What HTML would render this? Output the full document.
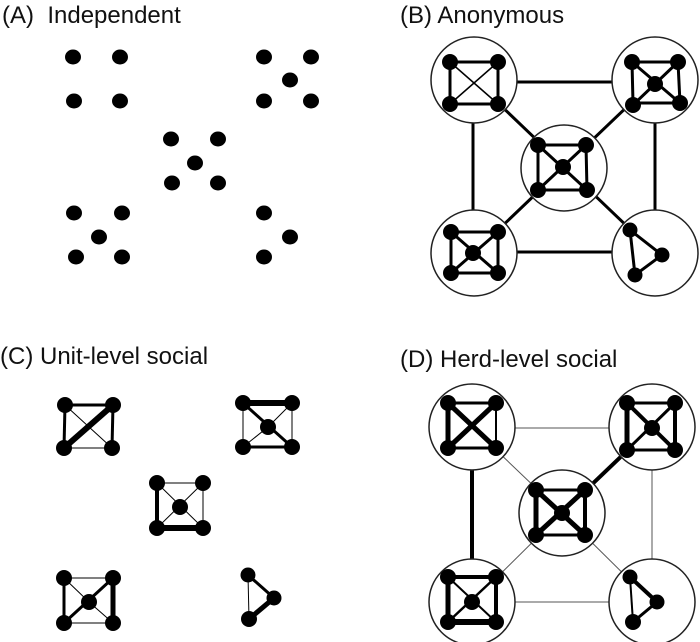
<!DOCTYPE html>
<html><head><meta charset="utf-8"><style>
html,body{margin:0;padding:0;background:#fff;}
svg{display:block;}
text{font-family:"Liberation Sans",Arial,sans-serif;font-size:24px;fill:#111;}
</style></head><body>
<svg width="700" height="642" viewBox="0 0 700 642" xmlns="http://www.w3.org/2000/svg">
<text x="2" y="23" xml:space="preserve">(A)  Independent</text>
<text x="400" y="23">(B) Anonymous</text>
<text x="0" y="364">(C) Unit-level social</text>
<text x="400" y="367">(D) Herd-level social</text>

<!-- Panel A -->
<g fill="#000">
<ellipse cx="73" cy="57" rx="8" ry="7.5"/><ellipse cx="120" cy="57" rx="8" ry="7.5"/>
<ellipse cx="74" cy="101" rx="8" ry="7.5"/><ellipse cx="120" cy="101" rx="8" ry="7.5"/>
<ellipse cx="264" cy="57" rx="8" ry="7.5"/><ellipse cx="311" cy="57" rx="8" ry="7.5"/>
<ellipse cx="290" cy="80" rx="8" ry="7.5"/>
<ellipse cx="264" cy="101" rx="8" ry="7.5"/><ellipse cx="311" cy="101" rx="8" ry="7.5"/>
<ellipse cx="171" cy="139" rx="8" ry="7.5"/><ellipse cx="218" cy="139" rx="8" ry="7.5"/>
<ellipse cx="195" cy="163" rx="8" ry="7.5"/>
<ellipse cx="172" cy="183" rx="8" ry="7.5"/><ellipse cx="218" cy="183" rx="8" ry="7.5"/>
<ellipse cx="74" cy="213" rx="8" ry="7.5"/><ellipse cx="122" cy="213" rx="8" ry="7.5"/>
<ellipse cx="99" cy="237" rx="8" ry="7.5"/>
<ellipse cx="76" cy="257" rx="8" ry="7.5"/><ellipse cx="122" cy="257" rx="8" ry="7.5"/>
<ellipse cx="264" cy="213" rx="8" ry="7.5"/><ellipse cx="290" cy="237" rx="8" ry="7.5"/>
<ellipse cx="264" cy="257" rx="8" ry="7.5"/>
</g>

<!-- Panel B -->
<g stroke="#000" stroke-width="3">
<line x1="474" y1="82" x2="655" y2="82"/>
<line x1="473" y1="80" x2="473" y2="253"/>
<line x1="655" y1="80" x2="655" y2="253"/>
<line x1="474" y1="252" x2="655" y2="252"/>
<line x1="474" y1="80" x2="655" y2="253"/>
<line x1="655" y1="80" x2="474" y2="253"/>
</g>
<g fill="#fff" stroke="#222" stroke-width="1.5">
<circle cx="474" cy="80" r="43"/><circle cx="655" cy="80" r="43"/>
<circle cx="564" cy="168" r="43"/><circle cx="474" cy="253" r="43"/><circle cx="655" cy="253" r="43"/>
</g>
<g stroke="#000" stroke-width="3" fill="none">
<path d="M450 62H498V104H450Z"/>
<line x1="450" y1="62" x2="498" y2="104" stroke-width="1.5"/><line x1="498" y1="62" x2="450" y2="104" stroke-width="1.5"/>
<path d="M632 62H678L680 103H633Z"/>
<line x1="632" y1="62" x2="680" y2="103"/><line x1="678" y1="62" x2="633" y2="105"/>
<path d="M538 145H586L587 190H538Z"/>
<line x1="538" y1="145" x2="587" y2="190"/><line x1="586" y1="145" x2="538" y2="190"/>
<path d="M451 232H498V273H451Z"/>
<line x1="451" y1="232" x2="498" y2="273"/><line x1="498" y1="232" x2="451" y2="273"/>
<path d="M630 230L662 255L635 275Z"/>
</g>
<g fill="#000">
<circle cx="450" cy="62" r="8"/><circle cx="498" cy="62" r="8"/><circle cx="450" cy="104" r="8"/><circle cx="498" cy="104" r="8"/>
<circle cx="632" cy="62" r="8"/><circle cx="678" cy="62" r="8"/><circle cx="655" cy="84" r="8"/><circle cx="633" cy="105" r="8"/><circle cx="680" cy="103" r="8"/>
<circle cx="538" cy="145" r="8"/><circle cx="586" cy="145" r="8"/><circle cx="563" cy="167" r="8"/><circle cx="538" cy="190" r="8"/><circle cx="587" cy="190" r="8"/>
<circle cx="451" cy="232" r="8"/><circle cx="498" cy="232" r="8"/><circle cx="473" cy="253" r="8"/><circle cx="451" cy="273" r="8"/><circle cx="498" cy="273" r="8"/>
<circle cx="630" cy="230" r="7.5"/><circle cx="662" cy="255" r="7.5"/><circle cx="635" cy="275" r="7.5"/>
</g>

<!-- Panel C -->
<g stroke="#000">
<line x1="65" y1="405" x2="113" y2="405" stroke-width="3"/>
<line x1="65" y1="405" x2="64" y2="448" stroke-width="3"/>
<line x1="64" y1="448" x2="112" y2="448" stroke-width="1"/>
<line x1="113" y1="405" x2="112" y2="448" stroke-width="3"/>
<line x1="64" y1="448" x2="113" y2="405" stroke-width="6"/>
<line x1="65" y1="405" x2="112" y2="448" stroke-width="1"/>

<line x1="243" y1="403" x2="292" y2="403" stroke-width="6"/>
<line x1="243" y1="403" x2="292" y2="447" stroke-width="3"/>
<line x1="243" y1="403" x2="243" y2="447" stroke-width="1"/>
<line x1="292" y1="403" x2="292" y2="447" stroke-width="1"/>
<line x1="243" y1="447" x2="292" y2="447" stroke-width="3"/>
<line x1="292" y1="403" x2="268" y2="427" stroke-width="1"/>
<line x1="268" y1="427" x2="243" y2="447" stroke-width="1"/>

<line x1="157" y1="483" x2="203" y2="483" stroke-width="1"/>
<line x1="157" y1="483" x2="157" y2="528" stroke-width="4"/>
<line x1="157" y1="528" x2="203" y2="528" stroke-width="6"/>
<line x1="203" y1="483" x2="203" y2="528" stroke-width="1"/>
<line x1="157" y1="483" x2="203" y2="528" stroke-width="1"/>
<line x1="203" y1="483" x2="157" y2="528" stroke-width="1"/>

<line x1="64" y1="578" x2="113" y2="578" stroke-width="1"/>
<line x1="64" y1="578" x2="64" y2="623" stroke-width="3"/>
<line x1="113" y1="578" x2="113" y2="623" stroke-width="5"/>
<line x1="64" y1="623" x2="113" y2="623" stroke-width="1"/>
<line x1="64" y1="578" x2="89" y2="602" stroke-width="1"/>
<line x1="64" y1="623" x2="113" y2="578" stroke-width="3"/>
<line x1="89" y1="602" x2="113" y2="623" stroke-width="1"/>

<line x1="248" y1="575" x2="274" y2="598" stroke-width="3"/>
<line x1="248" y1="575" x2="249" y2="619" stroke-width="1"/>
<line x1="274" y1="598" x2="249" y2="619" stroke-width="5"/>
</g>
<g fill="#000">
<circle cx="65" cy="405" r="8"/><circle cx="113" cy="405" r="8"/><circle cx="64" cy="448" r="8"/><circle cx="112" cy="448" r="8"/>
<circle cx="243" cy="403" r="8"/><circle cx="292" cy="403" r="8"/><circle cx="268" cy="427" r="8"/><circle cx="243" cy="447" r="8"/><circle cx="292" cy="447" r="8"/>
<circle cx="157" cy="483" r="8"/><circle cx="203" cy="483" r="8"/><circle cx="180" cy="507" r="8"/><circle cx="157" cy="528" r="8"/><circle cx="203" cy="528" r="8"/>
<circle cx="64" cy="578" r="8"/><circle cx="113" cy="578" r="8"/><circle cx="89" cy="602" r="8"/><circle cx="64" cy="623" r="8"/><circle cx="113" cy="623" r="8"/>
<circle cx="248" cy="575" r="7.5"/><circle cx="274" cy="598" r="7.5"/><circle cx="249" cy="619" r="8"/>
</g>

<!-- Panel D -->
<g stroke="#000">
<line x1="472" y1="428" x2="652" y2="428" stroke-width="1" stroke="#555"/>
<line x1="472" y1="427" x2="472" y2="602" stroke-width="4"/>
<line x1="652" y1="427" x2="652" y2="602" stroke-width="1" stroke="#555"/>
<line x1="472" y1="602" x2="652" y2="602" stroke-width="1" stroke="#555"/>
<line x1="472" y1="427" x2="562" y2="513" stroke-width="1" stroke="#555"/>
<line x1="652" y1="427" x2="562" y2="513" stroke-width="4"/>
<line x1="562" y1="513" x2="472" y2="602" stroke-width="1" stroke="#555"/>
<line x1="562" y1="513" x2="652" y2="602" stroke-width="1" stroke="#555"/>
</g>
<g fill="#fff" stroke="#222" stroke-width="1.5">
<circle cx="472" cy="427" r="43"/><circle cx="652" cy="427" r="43"/>
<circle cx="562" cy="513" r="43"/><circle cx="472" cy="602" r="43"/><circle cx="652" cy="602" r="43"/>
</g>
<g stroke="#000">
<line x1="448" y1="403" x2="496" y2="403" stroke-width="3"/>
<line x1="448" y1="403" x2="448" y2="448" stroke-width="5"/>
<line x1="496" y1="403" x2="496" y2="448" stroke-width="2"/>
<line x1="448" y1="448" x2="496" y2="448" stroke-width="3"/>
<line x1="448" y1="403" x2="496" y2="448" stroke-width="5"/>
<line x1="496" y1="403" x2="448" y2="448" stroke-width="5"/>

<line x1="627" y1="403" x2="675" y2="403" stroke-width="3"/>
<line x1="627" y1="403" x2="627" y2="450" stroke-width="5"/>
<line x1="675" y1="403" x2="675" y2="450" stroke-width="4"/>
<line x1="627" y1="450" x2="675" y2="450" stroke-width="3"/>
<line x1="627" y1="403" x2="675" y2="450" stroke-width="4"/>
<line x1="675" y1="403" x2="627" y2="450" stroke-width="3"/>

<line x1="536" y1="490" x2="585" y2="490" stroke-width="3"/>
<line x1="536" y1="490" x2="536" y2="535" stroke-width="5"/>
<line x1="585" y1="490" x2="585" y2="535" stroke-width="4"/>
<line x1="536" y1="535" x2="585" y2="535" stroke-width="3"/>
<line x1="536" y1="490" x2="585" y2="535" stroke-width="5"/>
<line x1="585" y1="490" x2="536" y2="535" stroke-width="5"/>

<line x1="448" y1="577" x2="496" y2="577" stroke-width="4"/>
<line x1="448" y1="577" x2="448" y2="622" stroke-width="5"/>
<line x1="496" y1="577" x2="496" y2="622" stroke-width="4"/>
<line x1="448" y1="622" x2="496" y2="622" stroke-width="6"/>
<line x1="448" y1="577" x2="496" y2="622" stroke-width="2"/>
<line x1="496" y1="577" x2="448" y2="622" stroke-width="2.5"/>

<line x1="630" y1="577" x2="657" y2="602" stroke-width="4"/>
<line x1="630" y1="577" x2="633" y2="622" stroke-width="2"/>
<line x1="657" y1="602" x2="633" y2="622" stroke-width="3"/>
</g>
<g fill="#000">
<circle cx="448" cy="403" r="8"/><circle cx="496" cy="403" r="8"/><circle cx="448" cy="448" r="8"/><circle cx="496" cy="448" r="8"/>
<circle cx="627" cy="403" r="8"/><circle cx="675" cy="403" r="8"/><circle cx="652" cy="428" r="8"/><circle cx="627" cy="450" r="8"/><circle cx="675" cy="450" r="8"/>
<circle cx="536" cy="490" r="8"/><circle cx="585" cy="490" r="8"/><circle cx="562" cy="513" r="8"/><circle cx="536" cy="535" r="8"/><circle cx="585" cy="535" r="8"/>
<circle cx="448" cy="577" r="8"/><circle cx="496" cy="577" r="8"/><circle cx="472" cy="602" r="8"/><circle cx="448" cy="622" r="8"/><circle cx="496" cy="622" r="8"/>
<circle cx="630" cy="577" r="7.5"/><circle cx="657" cy="602" r="7.5"/><circle cx="633" cy="622" r="8"/>
</g>
</svg>
</body></html>
